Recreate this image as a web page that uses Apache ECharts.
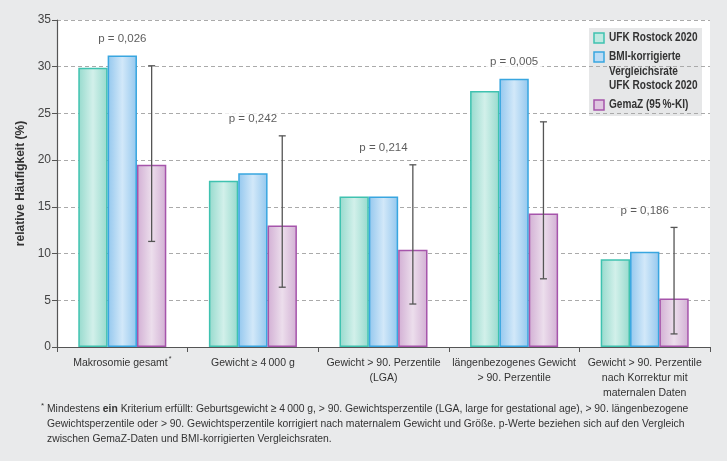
<!DOCTYPE html>
<html><head><meta charset="utf-8">
<script src="https://cdn.jsdelivr.net/npm/echarts@6/dist/echarts.min.js"></script>
<style>html,body{margin:0;padding:0;background:#e9eaeb}#c{width:727px;height:461px}</style>
</head><body><div id="c"></div>
<script>
const categories = ['Makrosomie gesamt*', 'Gewicht \u2265 4\u2009000 g', 'Gewicht > 90. Perzentile\n(LGA)', 'l\u00e4ngenbezogenes Gewicht\n> 90. Perzentile', 'Gewicht > 90. Perzentile\nnach Korrektur mit\nmaternalen Daten'];
const seriesNames = ['UFK Rostock 2020', 'BMI-korrigierte\nVergleichsrate\nUFK Rostock 2020', 'GemaZ (95\u2009%-KI)'];
const ufk = [29.9, 17.8, 16.1, 27.4, 9.4];
const bmi = [31.2, 18.6, 16.1, 28.7, 10.2];
const gemaz = [19.5, 13.0, 10.4, 14.3, 5.2];
const ciLow = [11.3, 6.4, 4.6, 7.3, 1.4];
const ciHigh = [30.1, 22.6, 19.5, 24.1, 12.8];
const pValues = ['p = 0,026', 'p = 0,242', 'p = 0,214', 'p = 0,005', 'p = 0,186'];
const yMin = 0, yMax = 35, yStep = 5;
const yTitle = 'relative H\u00e4ufigkeit (%)';
const footnoteLines = [
  'Mindestens {b|ein} Kriterium erf\u00fcllt: Geburtsgewicht \u2265 4\u2009000 g, > 90. Gewichtsperzentile (LGA, large for gestational age), > 90. l\u00e4ngenbezogene',
  'Gewichtsperzentile oder > 90. Gewichtsperzentile korrigiert nach maternalem Gewicht und Gr\u00f6\u00dfe. p-Werte beziehen sich auf den Vergleich',
  'zwischen GemaZ-Daten und BMI-korrigierten Vergleichsraten.'
];

const palette = [
  {border: '#3fc2b0', edge: '#96dacd', mid: '#d2f0ea', legend: '#bfe9e1'},
  {border: '#38a6e0', edge: '#93c7ee', mid: '#d2e8f9', legend: '#bcdcf5'},
  {border: '#a655ab', edge: '#d2afd4', mid: '#ecdeec', legend: '#dfc6e0'}
];
function grad(p){
  return new echarts.graphic.LinearGradient(0,0,1,0,[
    {offset:0, color:p.edge},{offset:0.5, color:p.mid},{offset:1, color:p.edge}]);
}
const catGap = 0.326;
const chart = echarts.init(document.getElementById('c'));
const F = 'Liberation Sans';

const legendY = [38, 57, 105];
const legendGraphics = [{type:'rect', shape:{x:589,y:28,width:113,height:88}, style:{fill:'#e6e7e8'}}];
seriesNames.forEach((n,k)=>{
  legendGraphics.push({type:'rect', shape:{x:594,y:legendY[k]-5,width:10,height:10}, style:{fill:palette[k].legend, stroke:palette[k].border, lineWidth:1.5}});
  legendGraphics.push({type:'text', x:609, y:legendY[k]-7.5, scaleX:0.84, style:{text:n, font:'bold 12px '+F, fill:'#333', lineHeight:14.5, textVerticalAlign:'top'}});
});

chart.setOption({
  animation:false,
  backgroundColor:'#e9eaeb',
  grid:{left:57, right:17, top:20, bottom:114, show:true, backgroundColor:'#fff', borderWidth:0},
  xAxis:{type:'category', data:categories,
    axisLine:{lineStyle:{color:'#555', width:1.2}},
    axisTick:{show:true, length:5, lineStyle:{color:'#555'}},
    axisLabel:{interval:0, color:'#333', fontFamily:F, fontSize:10.5, lineHeight:15, margin:9,
      formatter:v=>v.replace('*','{sup|*}'),
      rich:{sup:{fontSize:7, verticalAlign:'top', fontFamily:F, color:'#333', padding:[0,0,6,1]}}}
  },
  yAxis:{type:'value', min:yMin, max:yMax, interval:yStep, name:yTitle, nameLocation:'middle', nameGap:28,
    nameTextStyle:{fontFamily:F, fontWeight:'bold', fontSize:12, color:'#333'},
    axisLine:{show:true, lineStyle:{color:'#555', width:1.2}},
    axisTick:{show:true, length:5, lineStyle:{color:'#555'}},
    axisLabel:{color:'#444', fontFamily:F, fontSize:12, margin:6},
    splitLine:{lineStyle:{color:'#aaa', type:[4,3], width:1}}
  },
  series:[
    {name:seriesNames[0], type:'bar', data:ufk, barGap:'0%', barCategoryGap:(catGap*100)+'%',
      itemStyle:{color:grad(palette[0]), borderColor:palette[0].border, borderWidth:1.5}},
    {name:seriesNames[1], type:'bar', data:bmi, barGap:'0%', barCategoryGap:(catGap*100)+'%',
      itemStyle:{color:grad(palette[1]), borderColor:palette[1].border, borderWidth:1.5}},
    {name:seriesNames[2], type:'bar', data:gemaz, barGap:'0%', barCategoryGap:(catGap*100)+'%',
      itemStyle:{color:grad(palette[2]), borderColor:palette[2].border, borderWidth:1.5}},
    {type:'custom', data:categories.map((c,i)=>[i, ciLow[i], ciHigh[i]]), z:5,
      renderItem:(params, api)=>{
        const i = api.value(0);
        const lo = api.coord([i, api.value(1)]);
        const hi = api.coord([i, api.value(2)]);
        const band = api.size([1,0])[0];
        const bw = band*(1-catGap)/3;
        const x = lo[0] + bw;
        const cap = 3.5;
        const st = {stroke:'#555', lineWidth:1.3};
        return {type:'group', children:[
          {type:'line', shape:{x1:x,y1:lo[1],x2:x,y2:hi[1]}, style:st},
          {type:'line', shape:{x1:x-cap,y1:lo[1],x2:x+cap,y2:lo[1]}, style:st},
          {type:'line', shape:{x1:x-cap,y1:hi[1],x2:x+cap,y2:hi[1]}, style:st}
        ]};
      }},
    {type:'scatter', symbolSize:0, z:6, data:categories.map((c,i)=>[i, Math.max(bmi[i], ciHigh[i])]),
      label:{show:true, position:'top', distance:10, formatter:p=>pValues[p.dataIndex],
        color:'#333', fontFamily:F, fontSize:11.5, backgroundColor:'#fff', padding:[1,4]}}
  ],
  graphic:[
    ...legendGraphics,
    {type:'text', x:41, y:402, style:{text:'*', font:'8px '+F, fill:'#333'}},
    {type:'text', x:47, y:401, scaleX:0.9, style:{text:footnoteLines.join('\n'), font:'11.5px '+F, fill:'#333', lineHeight:15,
      rich:{b:{fontWeight:'bold', fontFamily:F, fontSize:11.5, fill:'#333'}}}}
  ]
});
</script></body></html>
